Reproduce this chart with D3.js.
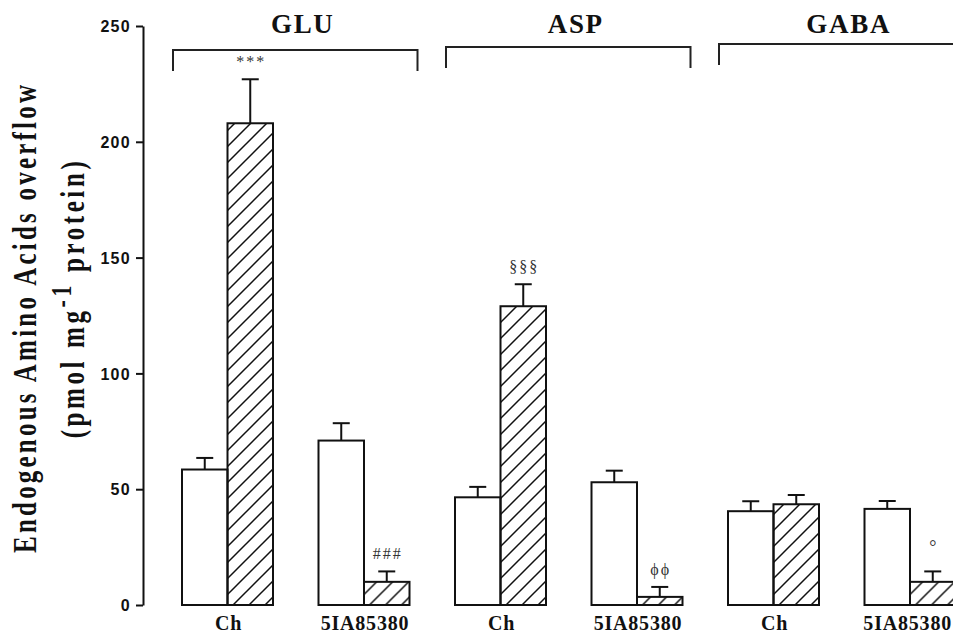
<!DOCTYPE html>
<html>
<head>
<meta charset="utf-8">
<script src="https://cdn.jsdelivr.net/npm/d3@7"></script>
<style>
  body { margin: 0; background: #fff; }
  svg { display: block; }
</style>
</head>
<body>
<svg id="chart"></svg>
<script>
const width = 953
const height = 636

// data
const groups = ['GLU', 'ASP', 'GABA']
const treatments = ['Ch', '5IA85380']
const controlVals = [58.5, 71, 46.5, 53, 40.5, 41.5]
const controlErr = [5, 7.5, 4.5, 5, 4.3, 3.4]
const stimVals = [208, 10, 129, 3.5, 43.5, 10]
const stimErr = [19, 4.5, 9.5, 4.3, 4, 4.5]
const stimMarks = ['***', '###', '§§§', 'ϕϕ', '', '°']
const yTicks = [0, 50, 100, 150, 200, 250]

const cats = []
groups.forEach(g => treatments.forEach(t => cats.push(g + '|' + t)))

const rows = cats.map((c, i) => ({
  key: c,
  group: c.split('|')[0],
  treat: c.split('|')[1],
  bars: [
    { s: 'ctrl', v: controlVals[i], e: controlErr[i], mark: '' },
    { s: 'stim', v: stimVals[i], e: stimErr[i], mark: stimMarks[i] }
  ]
}))

const svg = d3.select('#chart').attr('width', width).attr('height', height)

const defs = svg.append('defs')
defs.append('pattern')
  .attr('id', 'hatch')
  .attr('patternUnits', 'userSpaceOnUse')
  .attr('width', 16).attr('height', 16)
  .append('path')
  .attr('d', 'M0,16 L16,0 M-4,4 L4,-4 M12,20 L20,12')
  .attr('stroke', '#111')
  .attr('stroke-width', 1.5)

const y = d3.scaleLinear().domain([0, 250]).range([605, 26])

const x = d3.scaleBand()
  .domain(cats)
  .range([159.25, 978.25])
  .paddingInner(1 / 3)
  .paddingOuter(1 / 6)

const xs = d3.scaleBand()
  .domain(['ctrl', 'stim'])
  .range([0, x.bandwidth()])

// y axis
const yAxis = svg.append('g')
  .attr('transform', 'translate(143,0)')
  .call(d3.axisLeft(y).tickValues(yTicks).tickSize(7).tickSizeOuter(0).tickPadding(5))
yAxis.select('.domain').attr('stroke', '#111').attr('stroke-width', 2)
yAxis.selectAll('.tick line').attr('stroke', '#111').attr('stroke-width', 2)
yAxis.selectAll('.tick text')
  .attr('fill', '#111')
  .attr('dy', '0.36em')
  .style('font-family', '"Liberation Sans", Arial, sans-serif')
  .style('font-weight', 'bold')
  .style('font-size', '16px')
  .style('letter-spacing', '1.3px')

// y title (glyphs look tall and narrow in the original)
const serif = '"Liberation Serif", "Times New Roman", serif'
svg.append('text')
  .attr('transform', 'translate(36,319) rotate(-90) scale(1,1.35)')
  .attr('text-anchor', 'middle')
  .attr('textLength', 468)
  .attr('lengthAdjust', 'spacing')
  .style('font-family', serif)
  .style('font-weight', 'bold')
  .style('font-size', '25px')
  .attr('fill', '#111')
  .text('Endogenous Amino Acids overflow')

const t2 = svg.append('text')
  .attr('transform', 'translate(84,298) rotate(-90) scale(1,1.35)')
  .attr('text-anchor', 'middle')
  .style('font-family', serif)
  .style('font-weight', 'bold')
  .style('font-size', '25px')
  .style('letter-spacing', '3.6px')
  .attr('fill', '#111')
t2.append('tspan').text('(pmol mg')
t2.append('tspan').attr('dy', -10).style('font-size', '22px').text('-1')
t2.append('tspan').attr('dy', 10).text(' protein)')

// bars
const cell = svg.append('g').selectAll('g')
  .data(rows)
  .join('g')
  .attr('transform', d => `translate(${x(d.key)},0)`)

const bar = cell.selectAll('g')
  .data(d => d.bars)
  .join('g')

bar.append('line')
  .attr('x1', d => xs(d.s) + xs.bandwidth() / 2)
  .attr('x2', d => xs(d.s) + xs.bandwidth() / 2)
  .attr('y1', d => y(d.v))
  .attr('y2', d => y(d.v + d.e))
  .attr('stroke', '#111').attr('stroke-width', 2)

bar.append('line')
  .attr('x1', d => xs(d.s) + xs.bandwidth() / 2 - 8.5)
  .attr('x2', d => xs(d.s) + xs.bandwidth() / 2 + 8.5)
  .attr('y1', d => y(d.v + d.e))
  .attr('y2', d => y(d.v + d.e))
  .attr('stroke', '#111').attr('stroke-width', 2)

bar.append('rect')
  .attr('x', d => xs(d.s))
  .attr('y', d => y(d.v))
  .attr('width', xs.bandwidth())
  .attr('height', d => y(0) - y(d.v))
  .attr('fill', d => d.s === 'stim' ? 'url(#hatch)' : '#fff')
  .attr('stroke', '#111')
  .attr('stroke-width', 2)

// significance marks
bar.filter(d => d.mark !== '')
  .append('text')
  .attr('x', d => xs(d.s) + xs.bandwidth() / 2 + 1)
  .attr('y', d => y(d.v + d.e) - (d.mark === '°' ? 18 : 12))
  .attr('text-anchor', 'middle')
  .style('font-family', serif)
  .style('font-size', d => d.mark === '°' ? '18px' : '16px')
  .style('letter-spacing', '2px')
  .attr('fill', '#333')
  .text(d => d.mark)

// x labels
const xl = cell.append('text')
  .attr('x', x.bandwidth() / 2 + 1)
  .attr('y', 630)
  .attr('text-anchor', 'middle')
  .style('font-family', serif)
  .style('font-weight', 'bold')
  .style('font-size', '20px')
  .style('letter-spacing', '0.8px')
  .attr('fill', '#111')
  .text(d => d.treat)

// keep the last label inside the frame, like in the original
xl.each(function(d) {
  const b = this.getBBox()
  const right = x(d.key) + b.x + b.width
  if (right > width - 1) {
    d3.select(this).attr('x', x.bandwidth() / 2 + 1 - (right - width + 1))
  }
})

// group brackets
groups.forEach((g, i) => {
  const first = x(g + '|' + treatments[0])
  const last = x(g + '|' + treatments[1]) + x.bandwidth()
  const x0 = first - 9
  const x1 = last + 8
  const by = 50 - 3 * i
  svg.append('path')
    .attr('d', `M${x0},${by + 21} V${by} H${x1} V${by + 21}`)
    .attr('fill', 'none')
    .attr('stroke', '#222')
    .attr('stroke-width', 2)
  svg.append('text')
    .attr('x', (first + last) / 2 + 7)
    .attr('y', 33)
    .attr('text-anchor', 'middle')
    .style('font-family', serif)
    .style('font-weight', 'bold')
    .style('font-size', '27px')
    .style('letter-spacing', '1.7px')
    .attr('fill', '#111')
    .text(g)
})
</script>
</body>
</html>
